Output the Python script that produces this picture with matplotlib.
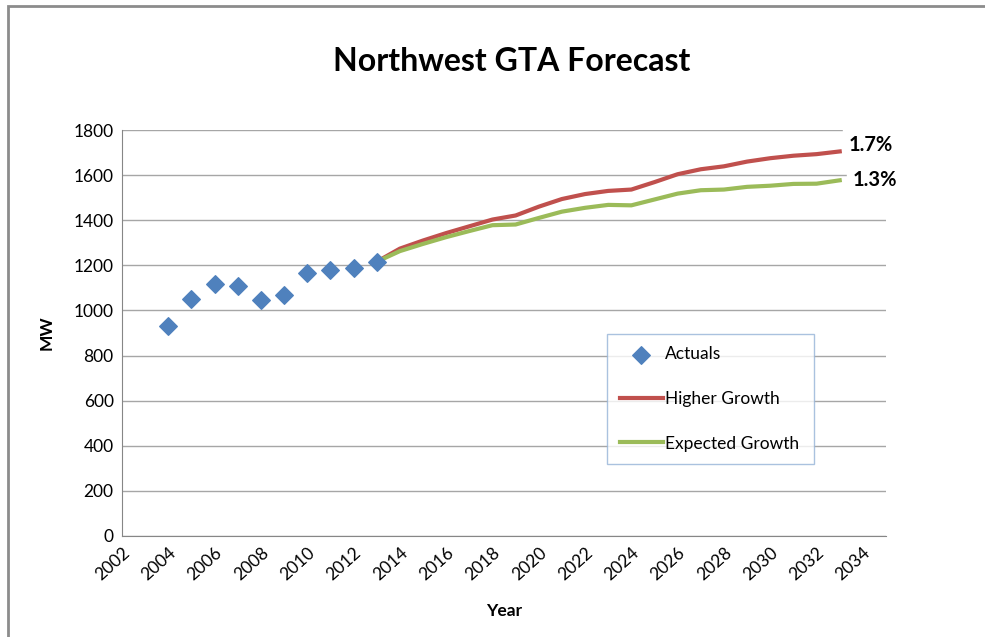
import matplotlib.pyplot as plt
from matplotlib.patches import Rectangle

plt.rcParams['font.family'] = ['Lato', 'DejaVu Sans']

# Actual peak demand (MW)
actual_years = [2004, 2005, 2006, 2007, 2008, 2009, 2010, 2011, 2012, 2013]
actual_mw = [930, 1050, 1117, 1107, 1046, 1069, 1167, 1179, 1187, 1216]

# Forecast scenarios
forecast_years = list(range(2013, 2034))
higher_growth = [1216, 1274, 1310, 1343, 1373, 1403, 1421, 1460, 1494, 1516, 1530, 1536,
                 1569, 1604, 1626, 1639, 1660, 1675, 1686, 1693, 1705]
expected_growth = [1216, 1263, 1295, 1325, 1352, 1378, 1381, 1410, 1438, 1455, 1468, 1466,
                   1492, 1518, 1533, 1536, 1548, 1553, 1561, 1562, 1577]

x_ticks = list(range(2002, 2035, 2))
y_ticks = list(range(0, 1801, 200))

fig = plt.figure(figsize=(9.85, 6.37), dpi=100)
ax = fig.add_axes([0.1239, 0.1586, 0.7756, 0.6373])

grid_col = '#a6a6a6'
ax.set_xlim(2002, 2035)
ax.set_ylim(0, 1800)
ax.set_xticks(x_ticks)
ax.set_yticks(y_ticks)
ax.yaxis.grid(True, color=grid_col, lw=1.0)
ax.set_axisbelow(True)
for s in ['top', 'right']:
    ax.spines[s].set_visible(False)
for s in ['left', 'bottom']:
    ax.spines[s].set_color('#868686')
ax.tick_params(length=0, labelsize=12.5, colors='black', pad=6)
plt.setp(ax.get_xticklabels(), rotation=42, ha='right', va='top', rotation_mode='anchor')

ax.plot(forecast_years, higher_growth, color='#c0504d', lw=3, label='Higher Growth', zorder=3)
ax.plot(forecast_years, expected_growth, color='#9bbb59', lw=3, label='Expected Growth', zorder=3)
ax.scatter(actual_years, actual_mw, marker='D', s=80, color='#4f81bd', label='Actuals', zorder=4)

ax.text(2033.4, higher_growth[-1] + 30, '1.7%', fontsize=14.5, fontweight='bold',
        va='center', ha='left', backgroundcolor='white', clip_on=False)
ax.text(2033.55, expected_growth[-1] + 0, '1.3%', fontsize=14.5, fontweight='bold',
        va='center', ha='left', backgroundcolor='white', clip_on=False)

handles, labels = ax.get_legend_handles_labels()
order = [2, 0, 1]
leg = ax.legend([handles[i] for i in order], [labels[i] for i in order],
                loc='lower left', bbox_to_anchor=(0.6354, 0.178, 0.27, 0.31),
                mode='expand', fontsize=12.5, frameon=True, fancybox=False,
                edgecolor='#95b3d7', labelspacing=1.65, handlelength=2.5,
                handletextpad=0.1, borderpad=0.7, borderaxespad=0)
leg.get_frame().set_linewidth(1.0)

ax.set_ylabel('MW', fontsize=12.5, fontweight='bold', labelpad=14)
ax.set_xlabel('Year', fontsize=12.5, fontweight='bold', labelpad=14)
fig.text(0.519, 0.903, 'Northwest GTA Forecast', fontsize=23, fontweight='bold',
         ha='center', va='center')

# chart area frame (only top and left edges visible in the screenshot)
fig.patches.append(Rectangle((7.5 / 985, -0.05), 1.1, 1 - 6.0 / 637 + 0.05,
                             transform=fig.transFigure, fill=False,
                             edgecolor='#8c8c8c', lw=2.0))

fig.savefig('out.png', dpi=100)
